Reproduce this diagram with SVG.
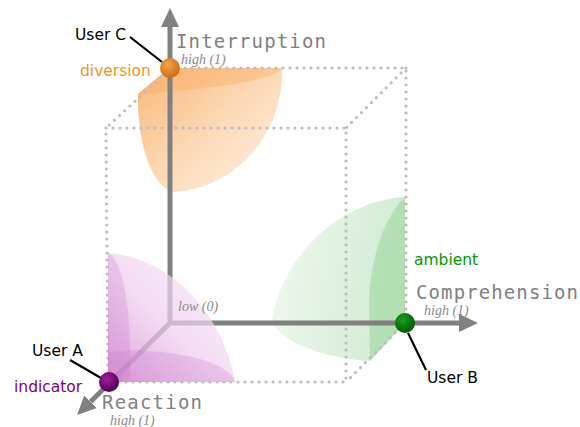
<svg xmlns="http://www.w3.org/2000/svg" width="580" height="427" viewBox="0 0 580 427">
<defs>
<style>
.dot{fill:none;stroke:#bdbdbd;stroke-width:3.2;stroke-linecap:round;stroke-dasharray:0 7}
.axis{fill:none;stroke:#808080;stroke-width:5;marker-end:url(#arr)}
.axl{font-family:"DejaVu Sans Mono",monospace;font-size:19px;fill:#808080}
.hl{font-family:"Liberation Serif",serif;font-style:italic;font-size:14px;fill:#8a8a8a}
.usr{font-family:"DejaVu Sans",sans-serif;font-size:15.5px;fill:#000}
.tag{font-family:"DejaVu Sans",sans-serif;font-size:15.5px}
.lead{stroke:#000;stroke-width:2.2;fill:none}
</style>
<marker id="arr" viewBox="0 0 20 20" refX="0" refY="10" markerWidth="20" markerHeight="20" markerUnits="userSpaceOnUse" orient="auto">
<path d="M0,1 L19,10 L0,19 z" fill="#808080"/>
</marker>
<linearGradient id="og" x1="0" y1="0" x2="1" y2="1">
<stop offset="0" stop-color="#f9b777"/>
<stop offset="0.5" stop-color="#fcd9b6"/>
<stop offset="1" stop-color="#fff3e8"/>
</linearGradient>
<linearGradient id="gg" x1="1" y1="0.6" x2="0" y2="0.4">
<stop offset="0" stop-color="#cfead0"/>
<stop offset="1" stop-color="#eef8ee"/>
</linearGradient>
<linearGradient id="pg" x1="0" y1="1" x2="1" y2="0">
<stop offset="0" stop-color="#d68ad6" stop-opacity="0.85"/>
<stop offset="0.45" stop-color="#efcdef" stop-opacity="0.7"/>
<stop offset="1" stop-color="#faf0fa" stop-opacity="0.7"/>
</linearGradient>
<radialGradient id="bo" cx="0.4" cy="0.35" r="0.65">
<stop offset="0" stop-color="#f7a54a"/>
<stop offset="1" stop-color="#c96b10"/>
</radialGradient>
<radialGradient id="bg" cx="0.4" cy="0.35" r="0.65">
<stop offset="0" stop-color="#1ea01e"/>
<stop offset="1" stop-color="#005a00"/>
</radialGradient>
<radialGradient id="bp" cx="0.4" cy="0.35" r="0.65">
<stop offset="0" stop-color="#a020a0"/>
<stop offset="1" stop-color="#500050"/>
</radialGradient>
</defs>
<rect width="580" height="427" fill="#fff"/>

<g id="orange-region">
<path d="M171,68 L282,68 C284,130 240,188 173,192 C150,185 137,140 138,94 L158,77 Z" fill="url(#og)"/>
<path d="M171,68 L282,68 C278,78 230,88 138,94 L158,77 Z" fill="#f8a85c" opacity="0.35"/>
</g>
<g id="green-region">
<path d="M405,197 C345,200 285,250 272,318 C275,340 320,358 370,361 L405,323 Z" fill="url(#gg)"/>
<path d="M405,197 C385,215 370,260 369,300 L370,361 L405,323 Z" fill="#8fd08f" opacity="0.45"/>
</g>

<g id="cube">
<path class="dot" d="M171,68 L406,68 L406,322"/>
<path class="dot" d="M106,128 L346,128 L346,382 L108,382 L106,128"/>
<path class="dot" d="M171,68 L106,128 M406,68 L346,128 M405,323 L346,382"/>
<path class="dot" d="M171,322 L405,322"/>
</g>

<g id="connectors">
<path class="axis" d="M170,322 L170,27"/>
<path class="axis" d="M170,323 L459,323"/>
<path class="axis" d="M171,322 L90.6,401.7"/>
<path class="lead" d="M130,37 L162,62"/>
<path class="lead" d="M408,333 L426,370"/>
<path class="lead" d="M70,360 L101,378"/>
</g>

<g id="purple-region">
<path d="M108,253 C175,258 225,320 235,382 L108,382 Z" fill="url(#pg)"/>
<path d="M108,253 C125,262 132,320 130,382 L108,382 Z" fill="#c879c8" opacity="0.28"/>
<path d="M108,382 L235,382 C232,368 200,352 130,350 L108,352 Z" fill="#c879c8" opacity="0.28"/>
</g>

<g id="userC">
<circle cx="170" cy="68" r="10" fill="url(#bo)"/>
<text class="usr" x="75" y="40">User C</text>
<text class="tag" x="80" y="76" fill="#f7941d">diversion</text>
</g>
<g id="userB">
<circle cx="405" cy="323" r="10" fill="url(#bg)"/>
<text class="usr" x="427" y="383">User B</text>
<text class="tag" x="414" y="265" fill="#009900">ambient</text>
</g>
<g id="userA">
<circle cx="109" cy="382" r="10" fill="url(#bp)"/>
<text class="usr" x="32" y="356">User A</text>
<text class="tag" x="14" y="392" fill="#800080">indicator</text>
</g>

<g id="labels">
<text class="axl" x="176" y="48" textLength="150" lengthAdjust="spacing">Interruption</text>
<text class="hl" x="181" y="64">high (1)</text>
<text class="axl" x="416" y="299" textLength="162" lengthAdjust="spacing">Comprehension</text>
<text class="hl" x="424" y="315">high (1)</text>
<text class="axl" x="102" y="409" textLength="100" lengthAdjust="spacing">Reaction</text>
<text class="hl" x="110" y="425">high (1)</text>
<text class="hl" x="178" y="311">low (0)</text>
</g>
</svg>
